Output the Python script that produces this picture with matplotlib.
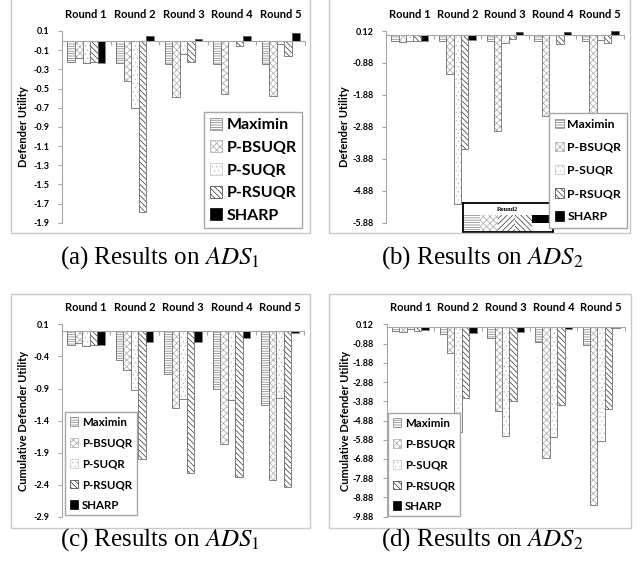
import numpy as np
import matplotlib
matplotlib.use('Agg')
import matplotlib.pyplot as plt
from matplotlib.patches import Patch, Rectangle

plt.rcParams['font.family'] = ['Lato', 'DejaVu Sans']
plt.rcParams['mathtext.fontset'] = 'stix'
plt.rcParams['hatch.linewidth'] = 0.5

W, H = 641, 566

# data (one list per method, one value per round)
rounds = ['Round 1', 'Round 2', 'Round 3', 'Round 4', 'Round 5']
methods = ['Maximin', 'P-BSUQR', 'P-SUQR', 'P-RSUQR', 'SHARP']

# (a) defender utility, ADS1
maximin_a = [-0.22, -0.23, -0.24, -0.24, -0.24]
pbsuqr_a = [-0.185, -0.42, -0.59, -0.56, -0.58]
psuqr_a = [-0.23, -0.70, -0.14, -0.005, -0.04]
prsuqr_a = [-0.22, -1.785, -0.22, -0.055, -0.165]
sharp_a = [-0.23, 0.05, 0.02, 0.045, 0.08]

# (b) defender utility, ADS2
maximin_b = [-0.18, -0.20, -0.20, -0.20, -0.20]
pbsuqr_b = [-0.22, -1.24, -3.00, -2.53, -2.47]
psuqr_b = [-0.20, -5.30, -0.25, -0.02, -0.15]
prsuqr_b = [-0.20, -3.56, -0.12, -0.30, -0.24]
sharp_b = [-0.20, -0.15, 0.10, 0.10, 0.13]

# (c) cumulative defender utility, ADS1
maximin_c = [-0.22, -0.45, -0.68, -0.91, -1.15]
pbsuqr_c = [-0.19, -0.61, -1.20, -1.76, -2.32]
psuqr_c = [-0.24, -0.93, -1.07, -1.08, -1.04]
prsuqr_c = [-0.22, -2.00, -2.22, -2.28, -2.43]
sharp_c = [-0.23, -0.18, -0.17, -0.11, -0.04]

# (d) cumulative defender utility, ADS2
maximin_d = [-0.22, -0.38, -0.57, -0.78, -0.95]
pbsuqr_d = [-0.26, -1.39, -4.37, -6.81, -9.27]
psuqr_d = [-0.14, -5.46, -5.67, -5.75, -5.94]
prsuqr_d = [-0.22, -3.73, -3.85, -4.10, -4.30]
sharp_d = [-0.20, -0.35, -0.26, -0.14, -0.05]

yticks_a = [0.1, -0.1, -0.3, -0.5, -0.7, -0.9, -1.1, -1.3, -1.5, -1.7, -1.9]
yticks_b = [0.12, -0.88, -1.88, -2.88, -3.88, -4.88, -5.88]
yticks_c = [0.1, -0.4, -0.9, -1.4, -1.9, -2.4, -2.9]
yticks_d = [0.12, -0.88, -1.88, -2.88, -3.88, -4.88, -5.88, -6.88, -7.88, -8.88, -9.88]

hatches = ['-------', 'xxxxx', '....', '\\\\\\\\\\\\', '']
hatch_colors = ['#7a7a7a', '#a8a8a8', '#c4c4c4', '#303030', 'black']
face_colors = ['white', 'white', 'white', 'white', 'black']
axis_gray = '#a6a6a6'


def rect(l, t, r, b):
    return [l / W, 1 - b / H, (r - l) / W, (b - t) / H]


def draw_panel(ax, series, yticks, fmt, ylabel, ylab_x):
    x = np.arange(len(rounds))
    width = 0.155
    for i, vals in enumerate(series):
        pos = x + (i - 2) * width
        ax.bar(pos, vals, width, color=face_colors[i], hatch=hatches[i],
               edgecolor=hatch_colors[i], linewidth=0)
        ax.bar(pos, vals, width, fill=False, edgecolor='#6e6e6e', linewidth=0.6)
    ax.set_xlim(-0.5, len(rounds) - 0.5)
    ax.set_ylim(yticks[-1], yticks[0])
    ax.set_yticks(yticks)
    ax.set_yticklabels([fmt % t for t in yticks], fontsize=6.5, fontweight='bold')
    ax.tick_params(axis='y', direction='out', length=3, color=axis_gray, pad=6)
    ax.set_xticks(np.arange(-0.5, len(rounds), 1))
    ax.tick_params(axis='x', direction='out', length=3, color=axis_gray,
                   labelbottom=False)
    ax.spines[['top', 'right']].set_visible(False)
    ax.spines['bottom'].set_position(('data', 0))
    ax.spines['bottom'].set_color(axis_gray)
    ax.spines['left'].set_color(axis_gray)
    top = ax.secondary_xaxis('top')
    top.set_xticks(x)
    top.set_xticklabels(rounds, fontsize=8, fontweight='bold')
    top.tick_params(length=0, pad=8)
    top.spines['top'].set_visible(False)
    ax.set_ylabel(ylabel, fontsize=8, fontweight='bold')
    ax.yaxis.set_label_coords(ylab_x, 0.5)
    ax.patch.set_alpha(0)


def add_legend(x, t, fs, spacing, pad, loc='upper left'):
    handles = [Patch(facecolor=face_colors[i], hatch=hatches[i],
                     edgecolor=hatch_colors[i], linewidth=0.5, label=m)
               for i, m in enumerate(methods)]
    fig.legend(handles=handles, loc=loc, bbox_to_anchor=(x / W, 1 - t / H),
               prop=dict(family='Lato', weight='bold', size=fs), frameon=True,
               fancybox=False, edgecolor=axis_gray, framealpha=1,
               handlelength=0.75, handleheight=0.8, handletextpad=0.3,
               labelspacing=spacing, borderpad=pad, borderaxespad=0)


fig = plt.figure(figsize=(W / 100, H / 100), dpi=100)

# light gray frames around each sub-figure
for l, t, r, b in [(11, -2, 310, 233), (329, -2, 630, 233),
                   (11, 294, 310, 528), (329, 294, 631, 528)]:
    fig.add_artist(Rectangle((l / W, 1 - b / H), (r - l) / W, (b - t) / H,
                             transform=fig.transFigure, fill=False,
                             edgecolor='#c8c8c8', linewidth=1))

ax_a = fig.add_axes(rect(62, 31, 305, 222.7))
draw_panel(ax_a, [maximin_a, pbsuqr_a, psuqr_a, prsuqr_a, sharp_a],
           yticks_a, '%.1f', 'Defender Utility', -0.135)
ax_b = fig.add_axes(rect(386, 31, 624, 222.7))
draw_panel(ax_b, [maximin_b, pbsuqr_b, psuqr_b, prsuqr_b, sharp_b],
           yticks_b, '%.2f', 'Defender Utility', -0.15)
ax_c = fig.add_axes(rect(62, 324.3, 304, 517))
draw_panel(ax_c, [maximin_c, pbsuqr_c, psuqr_c, prsuqr_c, sharp_c],
           yticks_c, '%.1f', 'Cumulative Defender Utility', -0.135)
ax_d = fig.add_axes(rect(386.5, 324.3, 625, 516.7))
draw_panel(ax_d, [maximin_d, pbsuqr_d, psuqr_d, prsuqr_d, sharp_d],
           yticks_d, '%.2f', 'Cumulative Defender Utility', -0.15)

add_legend(204, 112, 11.5, 0.5, 0.35)
add_legend(627, 113, 8.8, 1.0, 0.45, loc='upper right')
add_legend(65, 412, 8.3, 0.85, 0.4)
add_legend(388, 413, 8.3, 0.85, 0.4)

# small pasted "Round2" strip inside panel (b)
inset_hatches = ['-------', 'xxxxx', '//////', '\\\\\\\\\\\\', '']
inset_colors = ['#7a7a7a', '#a8a8a8', '#303030', '#303030', 'black']
inset_face = ['white', 'white', 'white', 'white', 'black']
inset_heights = [1, 1, 1, 1, 0.5]
inset_bottoms = [0.05, 0.05, 0.05, 0.05, 0.55]
ax_in = fig.add_axes(rect(463, 203, 553, 232))
ax_in.bar(np.arange(5), inset_heights, 1, bottom=inset_bottoms, align='edge',
          color=inset_face, hatch=inset_hatches, edgecolor=inset_colors, linewidth=0)
ax_in.set_xlim(0, 5.2)
ax_in.set_ylim(0, 1.75)
ax_in.text(2.6, 1.38, 'Round2', ha='center', va='center', fontsize=4.5,
           fontweight='bold', family='Liberation Serif')
ax_in.set_xticks([])
ax_in.set_yticks([])
for s in ax_in.spines.values():
    s.set_linewidth(1.3)
    s.set_color('black')

captions = [r'(a) Results on $ADS_1$', r'(b) Results on $ADS_2$',
            r'(c) Results on $ADS_1$', r'(d) Results on $ADS_2$']
for cap, (cx, cy) in zip(captions, [(160, 258), (482, 258), (160, 540), (482, 540)]):
    fig.text(cx / W, 1 - cy / H, cap, ha='center', va='center', fontsize=18,
             family='Liberation Serif')

fig.savefig('out.png', dpi=100)
